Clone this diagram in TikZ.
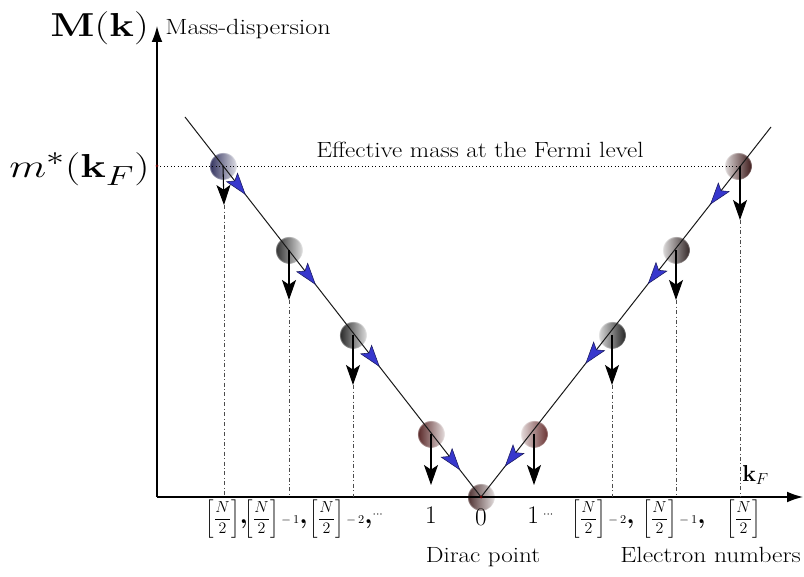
\documentclass[tikz,border=0pt]{standalone}
\usepackage{amsmath}
\usetikzlibrary{arrows.meta,decorations.markings,fadings,calc}
\definecolor{arrowblue}{RGB}{55,55,205}
\definecolor{lineclr}{RGB}{25,25,25}
\newcommand{\hb}{\ensuremath{\left[\dfrac{N}{2}\right]}}
\newcommand{\bcm}{{\fontsize{20}{20}\selectfont\bfseries ,}}
\newcommand{\hstretch}[2]{\scalebox{#1}[1]{#2}}
\newcommand{\btp}{\arrow{Stealth[length=17pt,width=11pt,inset=3.5pt,fill=arrowblue,color=arrowblue!45!black,line width=0.4pt]}}
\begin{document}
\begin{tikzpicture}[x=0.75pt,y=-0.75pt,
  txt/.style={font=\fontsize{16.5}{19}\selectfont, inner sep=0pt},
  lab/.style={font=\fontsize{13}{15}\selectfont, inner sep=0pt},
  num/.style={font=\fontsize{19}{21}\selectfont, inner sep=0pt},
  axis/.style={line width=0.9pt, -{Latex[length=12pt,width=8pt]}},
  disp/.style={line width=0.75pt, lineclr},
  down/.style={line width=0.8pt, -{Stealth[length=15pt,width=10.5pt,inset=3.5pt]}},
  guide/.style={dash dot, line width=0.5pt, black!70},
  ball/.style 2 args={circle, minimum size=21pt, inner sep=0pt,
     left color=#1, right color=#2, path fading=circle with fuzzy edge 10 percent},
  btip/.style n args={4}{decoration={markings,
     mark=at position #1 with {\btp},
     mark=at position #2 with {\btp},
     mark=at position #3 with {\btp},
     mark=at position #4 with {\btp}},
     postaction=decorate}
]
\useasboundingbox (0,0) rectangle (804,577);
\definecolor{cA}{RGB}{45,45,90}
\definecolor{cB}{RGB}{45,45,45}
\definecolor{cC}{RGB}{35,35,35}
\definecolor{cD}{RGB}{85,35,35}
\definecolor{cE}{RGB}{60,25,25}
\definecolor{cF}{RGB}{50,38,38}
\definecolor{cG}{RGB}{105,50,50}
\definecolor{cH}{RGB}{75,45,45}

% axes
\coordinate (O) at (157,497);
\coordinate (Ytop) at (157,26);
\coordinate (Xend) at (803,497);
\coordinate (Ltop) at (185,117);
\coordinate (Rtop) at (771,127);
\coordinate (Ym) at (157,166);

% balls
\node[ball={cA}{white!85!cA}] (bL1) at (223,166) {};
\node[ball={cB}{white!85!cB}] (bL2) at (289,250) {};
\node[ball={cC}{white!85!cC}] (bL3) at (353,335) {};
\node[ball={cD}{white!85!cD}] (bL4) at (431,434) {};
\node[ball={white!85!cE}{cE}] (bR1) at (738,166) {};
\node[ball={white!85!cF}{cF}] (bR2) at (676,250) {};
\node[ball={white!85!cC}{cC}] (bR3) at (612,335) {};
\node[ball={white!85!cG}{cG}] (bR4) at (534,434) {};
\node[ball={cH}{white!85!cH}] (D) at (481,497) {};

% arrow tips of the down arrows
\coordinate (aL1) at (224,205);
\coordinate (aL2) at (289,300);
\coordinate (aL3) at (353,385);
\coordinate (aL4) at (431,485);
\coordinate (aR4) at (534,485);
\coordinate (aR3) at (612,385);
\coordinate (aR2) at (676,300);
\coordinate (aR1) at (740,220);

\draw[axis] (O) -- (Ytop);
\draw[axis] (O) -- (Xend);

% Fermi level
\draw[dotted, line width=0.6pt] (Ym) -- (bR1.center);
\fill[red!40!black] (Ym) circle (1.5);

% dispersion lines
\draw[disp, btip={0.205}{0.442}{0.658}{0.93}] (Ltop) -- (D.center);
\draw[disp, btip={0.21}{0.425}{0.64}{0.918}] (Rtop) -- (D.center);
\fill[red!40!black] (D.center) circle (1.5);

% down arrows
\draw[down] (bL1.center) -- (aL1);
\draw[down] (bL2.center) -- (aL2);
\draw[down] (bL3.center) -- (aL3);
\draw[down] (bL4.center) -- (aL4);
\draw[down] (bR4.center) -- (aR4);
\draw[down] (bR3.center) -- (aR3);
\draw[down] (bR2.center) -- (aR2);
\draw[down] (aR1 |- bR1.center) -- (aR1);

% guides
\draw[guide] (aL1) -- (aL1 |- O);
\draw[guide] (aL2) -- (aL2 |- O);
\draw[guide] (aL3) -- (aL3 |- O);
\draw[guide] (aR3) -- (aR3 |- O);
\draw[guide] (aR2) -- (aR2 |- O);
\draw[guide] (aR1) -- (aR1 |- O);

% labels
\node[inner sep=0pt, anchor=base east, font=\fontsize{25}{27}\selectfont] (Mk) at (149,37) {\hstretch{1.25}{$\mathbf{M}(\mathbf{k})$}};
\node[txt, anchor=base west] (md) at (165,35) {\hstretch{1.19}{Mass-dispersion}};
\node[inner sep=0pt, anchor=base east, font=\fontsize{29}{31}\selectfont] (mk) at (150,178) {\hstretch{1.3}{$m^{*}(\mathbf{k}_{F})$}};
\node[txt, anchor=base west] (ef) at (316,158) {\hstretch{1.14}{Effective mass at the Fermi level}};
\node[inner sep=0pt, anchor=base west, font=\fontsize{17}{19}\selectfont] (kf) at (742,481) {$\mathbf{k}_{F}$};

\node[lab, anchor=base west] (t1) at (205,523) {\hb\bcm};
\node[lab, anchor=base west] (t2) at (244,523) {\hb\,$\scriptstyle -\,1$\bcm};
\node[lab, anchor=base west] (t3) at (309,523) {\hb\,$\scriptstyle -\,2$\bcm$^{\cdots}$};
\node[num, anchor=base] (n1L) at (431,523) {1};
\node[num, anchor=base] (n0) at (481,525) {0};
\node[num, anchor=base west] (n1R) at (527,523) {1\,{\fontsize{13}{15}\selectfont$^{\cdots}$}};
\node[lab, anchor=base west] (t4) at (571,523) {\hb\,$\scriptstyle -\,2$\bcm};
\node[lab, anchor=base west] (t5) at (642,523) {\hb\,$\scriptstyle -\,1$\bcm};
\node[lab, anchor=base west] (t6) at (726,523) {\hb};

\node[txt, anchor=base] (dp) at (483,562) {\hstretch{1.14}{Dirac point}};
\node[txt, anchor=base east] (en) at (801,562) {\hstretch{1.16}{Electron numbers}};
\end{tikzpicture}
\end{document}
